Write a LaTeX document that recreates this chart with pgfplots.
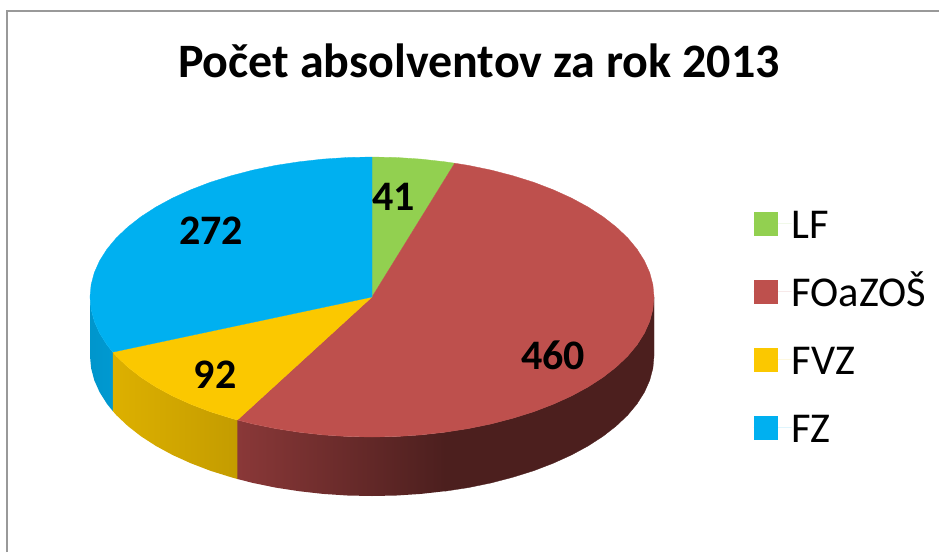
\documentclass[border=0pt]{standalone}
\usepackage{fontspec}
\setmainfont{Carlito}
\usepackage{pgfplots}
\pgfplotsset{compat=1.18}

\definecolor{cLF}{HTML}{92D050}
\definecolor{cFO}{HTML}{BE504D}
\definecolor{cFVZ}{HTML}{FBC800}
\definecolor{cFZ}{HTML}{00B0F0}
\definecolor{wallFOa}{HTML}{8A3838}
\definecolor{wallFOb}{HTML}{4C1F1E}

\newcommand{\fs}[1]{\fontsize{#1}{#1}\selectfont}

\begin{document}
\begin{tikzpicture}
\path[use as bounding box] (0,0) rectangle (939pt,552pt);
\begin{axis}[
    at={(0,0)}, anchor=south west,
    scale only axis,
    width=939pt, height=552pt,
    xmin=0, xmax=939,
    ymin=0, ymax=552,
    y dir=reverse,
    hide axis,
    clip=false,
    no markers,
    legend cell align=left,
    legend image code/.code={\fill[#1,draw=none] (0pt,-13pt) rectangle (24pt,11pt);\path[draw=none] (0pt,0pt) -- (38pt,0pt);},
    legend style={
        at={(axis cs:753.5,208)}, anchor=north west,
        draw=none, fill=none, font=\fs{42.5},
        inner sep=0pt, outer sep=0pt,
        row sep=38pt,
        nodes={inner sep=0pt, text height=30pt, text depth=0pt},
    },
]

% frame of the chart area
\addplot[forget plot, color=black!40, line width=2pt] coordinates {(7,552) (7,11) (939,11)};

% side walls
\addplot[forget plot, draw=none, left color=cFZ!85!black, right color=cFZ!87!black] coordinates {
(112.8,352.1) (107,344.9) (99.6,333.2) (94.3,321.3) (91.1,309.2) (90,297)
(90,356) (91.1,368.2) (94.3,380.3) (99.6,392.2) (107,403.9) (112.8,411.1)
} --cycle;

\addplot[forget plot, draw=none, left color=cFVZ!88!black, right color=cFVZ!78!black] coordinates {
(237.4,420) (231,418.2) (210.2,411.7) (190.7,404.2) (172.6,396) (156,387) (141,377.3) (127.8,367) (116.4,356.2) (112.8,352.1)
(112.8,411.1) (116.4,415.2) (127.8,426) (141,436.3) (156,446) (172.6,455) (190.7,463.2) (210.2,470.7) (231,477.2) (237.4,479)
} --cycle;

\addplot[forget plot, draw=wallFOb, line width=0.3pt, fill=wallFOb] coordinates {
(654,297) (652.9,309.2) (649.7,321.3) (644.4,333.2) (637,344.9) (627.6,356.2) (616.2,367) (603,377.3) (588,387) (571.4,396) (553.3,404.2) (533.8,411.7) (513,418.2) (491.2,423.9) (468.4,428.6) (445,432.2)
(445,491.2) (468.4,487.6) (491.2,482.9) (513,477.2) (533.8,470.7) (553.3,463.2) (571.4,455) (588,446) (603,436.3) (616.2,426) (627.6,415.2) (637,403.9) (644.4,392.2) (649.7,380.3) (652.9,368.2) (654,356)
} --cycle;

\addplot[forget plot, draw=none, left color=wallFOa, right color=wallFOb] coordinates {
(445,432.2) (421,434.9) (396.6,436.5) (372,437) (347.4,436.5) (323,434.9) (299,432.2) (275.6,428.6) (252.8,423.9) (237.4,420)
(237.4,479) (252.8,482.9) (275.6,487.6) (299,491.2) (323,493.9) (347.4,495.5) (372,496) (396.6,495.5) (421,493.9) (445,491.2)
} --cycle;

% top faces, one per faculty
\addplot[draw=cLF, line width=0.3pt, fill=cLF] coordinates {
(372,297) (372,157) (396.6,157.5) (421,159.1) (445,161.8) (454.7,163.2)
} --cycle;
\addlegendentry{LF}

\addplot[draw=cFO, line width=0.3pt, fill=cFO] coordinates {
(372,297) (454.7,163.2) (468.4,165.4) (491.2,170.1) (513,175.8) (533.8,182.3) (553.3,189.8) (571.4,198) (588,207) (603,216.7) (616.2,227) (627.6,237.8) (637,249.1) (644.4,260.8) (649.7,272.7) (652.9,284.8) (654,297)
(652.9,309.2) (649.7,321.3) (644.4,333.2) (637,344.9) (627.6,356.2) (616.2,367) (603,377.3) (588,387) (571.4,396) (553.3,404.2) (533.8,411.7) (513,418.2) (491.2,423.9) (468.4,428.6) (445,432.2) (421,434.9) (396.6,436.5) (372,437)
(347.4,436.5) (323,434.9) (299,432.2) (275.6,428.6) (252.8,423.9) (237.4,420)
} --cycle;
\addlegendentry{FOaZOŠ}

\addplot[draw=cFVZ, line width=0.3pt, fill=cFVZ] coordinates {
(372,297) (237.4,420) (231,418.2) (210.2,411.7) (190.7,404.2) (172.6,396) (156,387) (141,377.3) (127.8,367) (116.4,356.2) (112.8,352.1)
} --cycle;
\addlegendentry{FVZ}

\addplot[draw=cFZ, line width=0.3pt, fill=cFZ] coordinates {
(372,297) (112.8,352.1) (107,344.9) (99.6,333.2) (94.3,321.3) (91.1,309.2) (90,297)
(91.1,284.8) (94.3,272.7) (99.6,260.8) (107,249.1) (116.4,237.8) (127.8,227) (141,216.7) (156,207) (172.6,198) (190.7,189.8) (210.2,182.3) (231,175.8) (252.8,170.1) (275.6,165.4) (299,161.8) (323,159.1) (347.4,157.5) (372,157)
} --cycle;
\addlegendentry{FZ}

% value labels
\node[anchor=base, font=\fs{42}\bfseries] at (axis cs:393.5,210) {41};
\node[anchor=base, font=\fs{42}\bfseries] at (axis cs:553,369) {460};
\node[anchor=base, font=\fs{42}\bfseries] at (axis cs:215,388) {92};
\node[anchor=base, font=\fs{42}\bfseries] at (axis cs:211,244) {272};

% title
\node[anchor=base, font=\fs{48}\bfseries] at (axis cs:479,77) {Počet absolventov za rok 2013};

\end{axis}
\end{tikzpicture}
\end{document}
